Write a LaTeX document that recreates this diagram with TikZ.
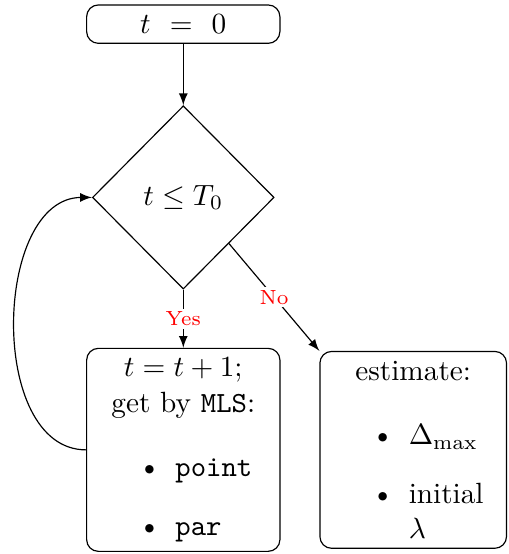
\documentclass[tikz,border=0pt]{standalone}
\usepackage{amssymb}
\usepackage{amsmath}
\usepackage{tikz}
\usetikzlibrary{positioning,shapes.geometric}
\setlength{\leftmargini}{27pt}

\begin{document}
\begin{tikzpicture}[>=latex,
  block/.style={draw, rounded corners=4pt, inner sep=3.33pt,
    minimum width=2.32cm, text width=2.085cm},
  decision/.style={draw, diamond, aspect=1, inner sep=0pt,
    minimum width=2.18cm, minimum height=2.2cm},
  branch/.style={font=\scriptsize, text=red, fill=white, inner sep=1pt}
  ]
  \useasboundingbox (0,0) rectangle (6.1,6.65);
  % Draw boxes
  \node[block, align=center, minimum height=0.46cm] (start) at (2.2,6.36)
        {$t \,=\, 0$};
  \node[decision] (test) at (2.2,4.28) {$t \leq T_0$};
  \node[block, minimum height=2.4cm] (step) at (2.2,1.25) {%
    {\centering $t = t + 1;$\\ get by \texttt{MLS}:\par}
    \raggedright
    \begin{itemize}
      \item \texttt{point}
      \item \texttt{par}
    \end{itemize}};
  \node[block, minimum width=2.24cm, text width=2.005cm,
        minimum height=2.35cm] (est) at (4.96,1.25) {%
    {\centering estimate:\par}
    \raggedright
    \begin{itemize}
      \item $\Delta_{\max}$
      \item initial $\lambda$
    \end{itemize}};
  % Draw arrows
  \draw[->] (start) -- (test);
  \draw[->] (test) -- node[branch] {Yes} (step);
  \draw[->] (test.south east) -- node[branch] {No} (est.north west);
  \draw[->] (step.west) to[out=180,in=180] (test.west); % loop back
\end{tikzpicture}
\end{document}
